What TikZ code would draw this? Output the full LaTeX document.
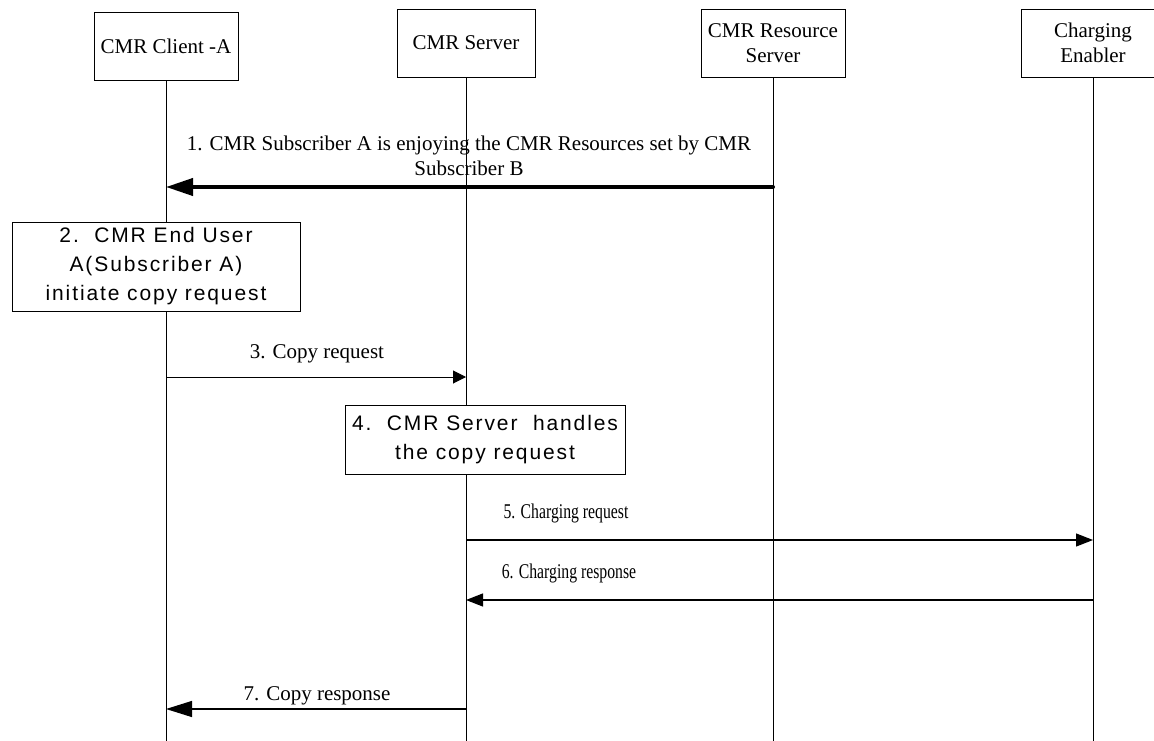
\documentclass[tikz,border=0pt]{standalone}
\usepackage{fontspec}
\setmainfont{Liberation Serif}
\newfontfamily\boxfont{Liberation Sans}[LetterSpace=9]
\usetikzlibrary{arrows.meta,positioning}

\begin{document}
\begin{tikzpicture}[x=1pt,y=-1pt,
    font=\fontsize{21}{25}\selectfont,
    entity/.style={draw,line width=0.8pt,minimum width=144pt,minimum height=68pt,align=center,inner sep=2pt},
    action/.style={draw,fill=white,line width=1pt,align=center,inner sep=0pt,font=\boxfont\fontsize{21}{29}\selectfont},
    lifeline/.style={line width=0.8pt},
    msg/.style={line width=1.2pt,-{Triangle[length=17pt,width=13pt]}},
    lbl/.style={anchor=base,inner sep=0pt}]
  \useasboundingbox (0,0) rectangle (1154,741);

  % entities
  \node[entity] (client) at (166,46.5) {CMR Client -A};
  \node[entity,minimum width=138pt] (server) at (466,43) {CMR Server};
  \node[entity] (resource) at (773,43) {CMR Resource\\Server};
  \node[entity] (charging) at (1093,43) {Charging\\Enabler};

  % lifelines
  \foreach \n/\x in {client/166,server/466,resource/773,charging/1093}{
    \coordinate (\n-end) at (\x,741);
    \draw[lifeline] (\n.south) -- (\n-end);
  }

  % message heights
  \coordinate (y1) at (0,187);
  \coordinate (y3) at (0,377);
  \coordinate (y5) at (0,540);
  \coordinate (y6) at (0,600);
  \coordinate (y7) at (0,709);

  % 1
  \node[anchor=south,inner sep=0pt,align=center] (l1) at (469,176)
    {1. CMR Subscriber A is enjoying the CMR Resources set by CMR\\Subscriber B};
  \draw[line width=4pt,line cap=round,-{Triangle[length=27pt,width=17pt]}] (resource |- y1) -- (client |- y1);

  % 2
  \node[action,minimum width=288pt,minimum height=89pt] (enduser) at (156,266.5)
    {2.\ \ CMR End User\\A(Subscriber A)\\initiate copy request};

  % 3
  \node[lbl] (l3) at (317,358) {3. Copy request};
  \draw[line width=1pt,-{Triangle[length=13pt,width=13pt]}] (client |- y3) -- (server |- y3);

  % 4
  \node[action,minimum width=280pt,minimum height=69pt] (handle) at (485,439.5)
    {4.\ \ CMR Server\ \ handles\\the copy request};

  % 5 and 6
  \node[lbl] (l5) at (566,518) {\scalebox{0.75}[1]{5. Charging request}};
  \draw[msg] (server |- y5) -- (charging |- y5);
  \node[lbl] (l6) at (569,578) {\scalebox{0.75}[1]{6. Charging response}};
  \draw[msg] (charging |- y6) -- (server |- y6);

  % 7
  \node[lbl] (l7) at (317,700) {7. Copy response};
  \draw[line width=1.2pt,-{Triangle[length=26pt,width=16pt]}] (server |- y7) -- (client |- y7);
\end{tikzpicture}
\end{document}
